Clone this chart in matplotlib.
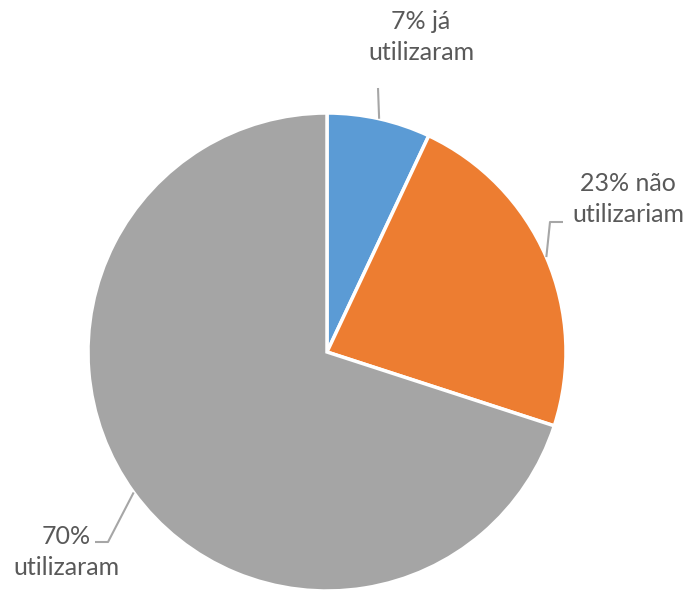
import numpy as np
import matplotlib
matplotlib.use("Agg")
from matplotlib import pyplot as plt

# chart data
shares = [7, 23, 70]
labels = ["7% já\nutilizaram", "23% não\nutilizariam", "70%\nutilizaram"]
colors = ["#5B9BD5", "#ED7D31", "#A5A5A5"]

# layout (pixel space, y measured from bottom)
W, H = 689, 590
center = (327, H - 352)
radius = 239
# text centres and leader elbows for each label
text_pos = [(421, H - 37), (628, H - 199), (66, H - 552)]
elbows = [[(378, H - 88)], [(550, H - 222), (563, H - 222)], [(108, H - 542), (95, H - 542)]]

plt.rcParams["font.family"] = ["Lato", "DejaVu Sans"]

fig = plt.figure(figsize=(W / 100, H / 100), dpi=100)
ax = fig.add_axes([0, 0, 1, 1])

wedges, _ = ax.pie(
    shares,
    colors=colors,
    startangle=90,
    counterclock=False,
    center=center,
    radius=radius,
    wedgeprops=dict(edgecolor="white", linewidth=2.5),
)
# pie() resets the limits, so set them afterwards
ax.set_xlim(0, W)
ax.set_ylim(0, H)
ax.set_aspect("equal")
ax.axis("off")

# leader lines start from the middle of each wedge's arc
for w, lab, tp, el in zip(wedges, labels, text_pos, elbows):
    ang = np.deg2rad((w.theta1 + w.theta2) / 2)
    x0 = center[0] + radius * np.cos(ang)
    y0 = center[1] + radius * np.sin(ang)
    xs = [x0] + [p[0] for p in el]
    ys = [y0] + [p[1] for p in el]
    ax.plot(xs, ys, color="#A6A6A6", lw=1.5, solid_capstyle="butt")
    ax.text(tp[0], tp[1], lab, ha="center", va="center", fontsize=18,
            color="#595959", linespacing=1.4)

fig.savefig("out.png", dpi=100)
